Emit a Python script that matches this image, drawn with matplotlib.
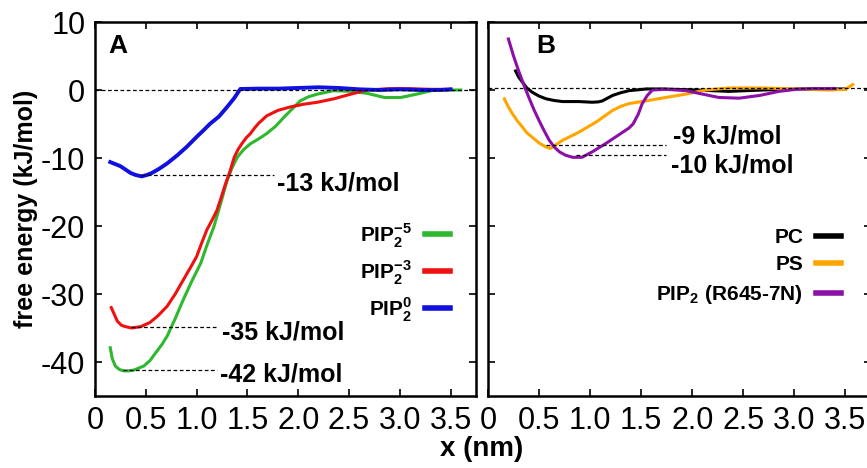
import numpy as np
import matplotlib
matplotlib.use('Agg')
import matplotlib.pyplot as plt

plt.rcParams['font.family'] = ['Liberation Sans', 'DejaVu Sans']
plt.rcParams['mathtext.fontset'] = 'custom'
plt.rcParams['mathtext.rm'] = 'Liberation Sans'
plt.rcParams['mathtext.bf'] = 'Liberation Sans:bold'
plt.rcParams['axes.unicode_minus'] = False

# panel A: PIP2 charge states
x_pip0 = [0.15, 0.20, 0.25, 0.30, 0.35, 0.40, 0.46, 0.51, 0.56, 0.63, 0.71, 0.81, 0.90, 1.00, 1.07,
          1.13, 1.22, 1.30, 1.37, 1.43, 1.6, 1.8, 2.0, 2.2, 2.4, 2.6, 2.8, 3.0, 3.2, 3.4, 3.5]
y_pip0 = [-10.6, -10.9, -11.2, -11.7, -12.2, -12.5, -12.7, -12.5, -12.2, -11.6, -10.8, -9.6, -8.4, -6.9, -5.9,
          -5.0, -3.9, -2.5, -1.2, 0.15, 0.2, 0.2, 0.3, 0.4, 0.3, 0.1, 0.0, 0.1, 0.0, 0.0, 0.1]

x_pip3 = [0.16, 0.19, 0.22, 0.26, 0.30, 0.36, 0.45, 0.54, 0.62, 0.71, 0.79, 0.87, 0.94, 1.00, 1.05,
          1.10, 1.15, 1.20, 1.24, 1.28, 1.33, 1.37, 1.41, 1.45, 1.49, 1.53, 1.57, 1.61, 1.69, 1.80,
          1.92, 2.05, 2.19, 2.35, 2.52, 2.68, 2.9, 3.1, 3.3, 3.5]
y_pip3 = [-32.0, -33.0, -34.0, -34.6, -34.8, -35.0, -34.8, -34.2, -33.2, -31.8, -30.0, -27.9, -26.1, -24.5, -22.5,
          -20.6, -19.2, -17.7, -15.9, -14.0, -11.9, -9.9, -8.7, -7.8, -7.0, -6.4, -5.6, -4.9, -3.8, -3.0,
          -2.5, -2.1, -1.8, -1.3, -0.6, 0.0, 0.2, 0.2, 0.1, 0.1]

x_pip5 = [0.15, 0.17, 0.20, 0.24, 0.28, 0.33, 0.38, 0.48, 0.54, 0.60, 0.66, 0.71, 0.79, 0.87, 0.95,
          1.04, 1.10, 1.17, 1.24, 1.30, 1.35, 1.40, 1.46, 1.53, 1.61, 1.69, 1.78, 1.86, 1.94, 2.02,
          2.10, 2.19, 2.35, 2.52, 2.68, 2.85, 3.01, 3.17, 3.34, 3.6]
y_pip5 = [-37.9, -39.5, -40.6, -41.1, -41.3, -41.3, -41.2, -40.6, -39.8, -38.6, -37.4, -36.2, -33.6, -30.8, -28.2,
          -25.5, -22.9, -20.1, -16.5, -13.3, -11.4, -9.9, -8.8, -7.9, -7.2, -6.4, -5.3, -4.0, -2.8, -1.6,
          -1.0, -0.6, -0.1, -0.2, -0.5, -1.1, -1.1, -0.6, 0.0, 0.0]

# panel B: other lipids
x_pc = [0.27, 0.30, 0.34, 0.38, 0.43, 0.50, 0.57, 0.65, 0.73, 0.89, 1.02, 1.08, 1.12, 1.17, 1.22, 1.30,
        1.38, 1.55, 1.71, 2.04, 2.36, 2.69, 3.02, 3.34, 3.5]
y_pc = [2.8, 1.9, 1.1, 0.3, -0.3, -0.9, -1.3, -1.55, -1.7, -1.7, -1.8, -1.75, -1.6, -1.2, -0.8, -0.4,
        -0.1, 0.15, 0.15, 0.0, -0.2, 0.0, 0.15, 0.15, 0.15]

x_ps = [0.16, 0.20, 0.24, 0.29, 0.34, 0.38, 0.43, 0.50, 0.57, 0.61, 0.66, 0.73, 0.89, 1.06, 1.22, 1.30,
        1.38, 1.46, 1.55, 1.74, 1.94, 2.13, 2.36, 2.69, 3.02, 3.34, 3.5, 3.57]
y_ps = [-1.3, -2.5, -3.5, -4.6, -5.5, -6.3, -6.9, -7.8, -8.4, -8.6, -8.1, -7.4, -6.2, -4.7, -3.0, -2.4,
        -2.0, -1.8, -1.6, -1.1, -0.6, 0.0, 0.3, 0.3, 0.15, 0.0, 0.1, 0.8]

x_r645 = [0.20, 0.25, 0.30, 0.35, 0.40, 0.45, 0.50, 0.55, 0.60, 0.65, 0.70, 0.76, 0.83, 0.92, 1.02,
          1.15, 1.24, 1.32, 1.38, 1.42, 1.47, 1.51, 1.56, 1.61, 1.74, 1.94, 2.10, 2.26, 2.46, 2.66,
          2.85, 3.02, 3.2, 3.4]
y_r645 = [7.5, 5.0, 2.8, 0.8, -1.1, -2.9, -4.5, -6.0, -7.4, -8.4, -9.1, -9.6, -9.9, -9.9, -9.1,
          -7.9, -7.0, -6.2, -5.6, -5.0, -3.6, -2.0, -0.8, 0.0, 0.1, -0.1, -0.6, -1.1, -1.2, -0.8,
          -0.2, 0.1, 0.2, 0.2]

fig = plt.figure(figsize=(8.67, 4.68), dpi=100)
axA = fig.add_axes([95/867, 72/468, 381/867, 374/468])
axB = fig.add_axes([488/867, 72/468, 383/867, 374/468])

axA.plot(x_pip5, y_pip5, color='#2db82d', lw=2.2, label=r'PIP$_\mathbf{2}^\mathbf{-5}$')
axA.plot(x_pip3, y_pip3, color='#f01010', lw=2.2, label=r'PIP$_\mathbf{2}^\mathbf{-3}$')
axA.plot(x_pip0, y_pip0, color='#1010e0', lw=2.8, label=r'PIP$_\mathbf{2}^\mathbf{0}$')
axA.axhline(0, color='black', ls='--', lw=0.9, dashes=(3, 2))

axB.plot(x_pc, y_pc, color='black', lw=2.2, label='PC')
axB.plot(x_ps, y_ps, color='#ffa500', lw=2.2, label='PS')
axB.plot(x_r645, y_r645, color='#8b0fa8', lw=2.2, label=r'PIP$_\mathbf{2}$ (R645-7N)')
axB.axhline(0.3, color='black', ls='--', lw=0.9, dashes=(3, 2))

# minimum annotations
annA = [(0.45, 1.76, -12.45, 1.79, -13.7, '-13 kJ/mol'),
        (0.35, 1.20, -34.9, 1.25, -35.7, '-35 kJ/mol'),
        (0.28, 1.20, -41.2, 1.23, -41.9, '-42 kJ/mol')]
annB = [(0.57, 1.74, -8.1, 1.81, -6.8, '-9 kJ/mol'),
        (0.86, 1.74, -9.5, 1.79, -11.1, '-10 kJ/mol')]
for ax, ann in ((axA, annA), (axB, annB)):
    for x0, x1, y, tx, ty, s in ann:
        ax.plot([x0, x1], [y, y], color='black', lw=0.9, dashes=(3, 2))
        ax.text(tx, ty, s, fontsize=18, fontweight='bold', va='center', ha='left')

for ax, lab, lx in ((axA, 'A', 0.035), (axB, 'B', 0.125)):
    ax.set_xlim(0, 3.75)
    ax.set_ylim(-45, 10)
    ax.set_xticks(np.arange(0, 3.51, 0.5))
    ax.set_xticklabels(['0'] + ['%.1f' % v for v in np.arange(0.5, 3.51, 0.5)])
    ax.set_yticks([10, 0, -10, -20, -30, -40])
    ax.tick_params(direction='in', top=True, right=True, length=5, width=1.2,
                   labelsize=22, pad=7)
    for sp in ax.spines.values():
        sp.set_linewidth(1.8)
    ax.text(lx, 0.935, lab, transform=ax.transAxes, fontsize=19, fontweight='bold',
            va='center', ha='left')
axB.set_yticklabels([])
axA.set_ylabel('free energy (kJ/mol)', fontsize=18, fontweight='bold', labelpad=2)
fig.text(0.555, 0.04, 'x (nm)', fontsize=20, fontweight='bold', ha='center', va='center')

legprops = dict(frameon=False, markerfirst=False, handlelength=1.2, handletextpad=0.6,
                labelspacing=0.4, prop={'size': 15, 'weight': 'bold'}, loc='center right')
lgA = axA.legend(bbox_to_anchor=(0.98, 0.33), **legprops)
lgB = axB.legend(bbox_to_anchor=(0.97, 0.345), **legprops)
for lg in (lgA, lgB):
    for h in lg.legend_handles:
        h.set_linewidth(4)

fig.savefig('out.png', dpi=100)
